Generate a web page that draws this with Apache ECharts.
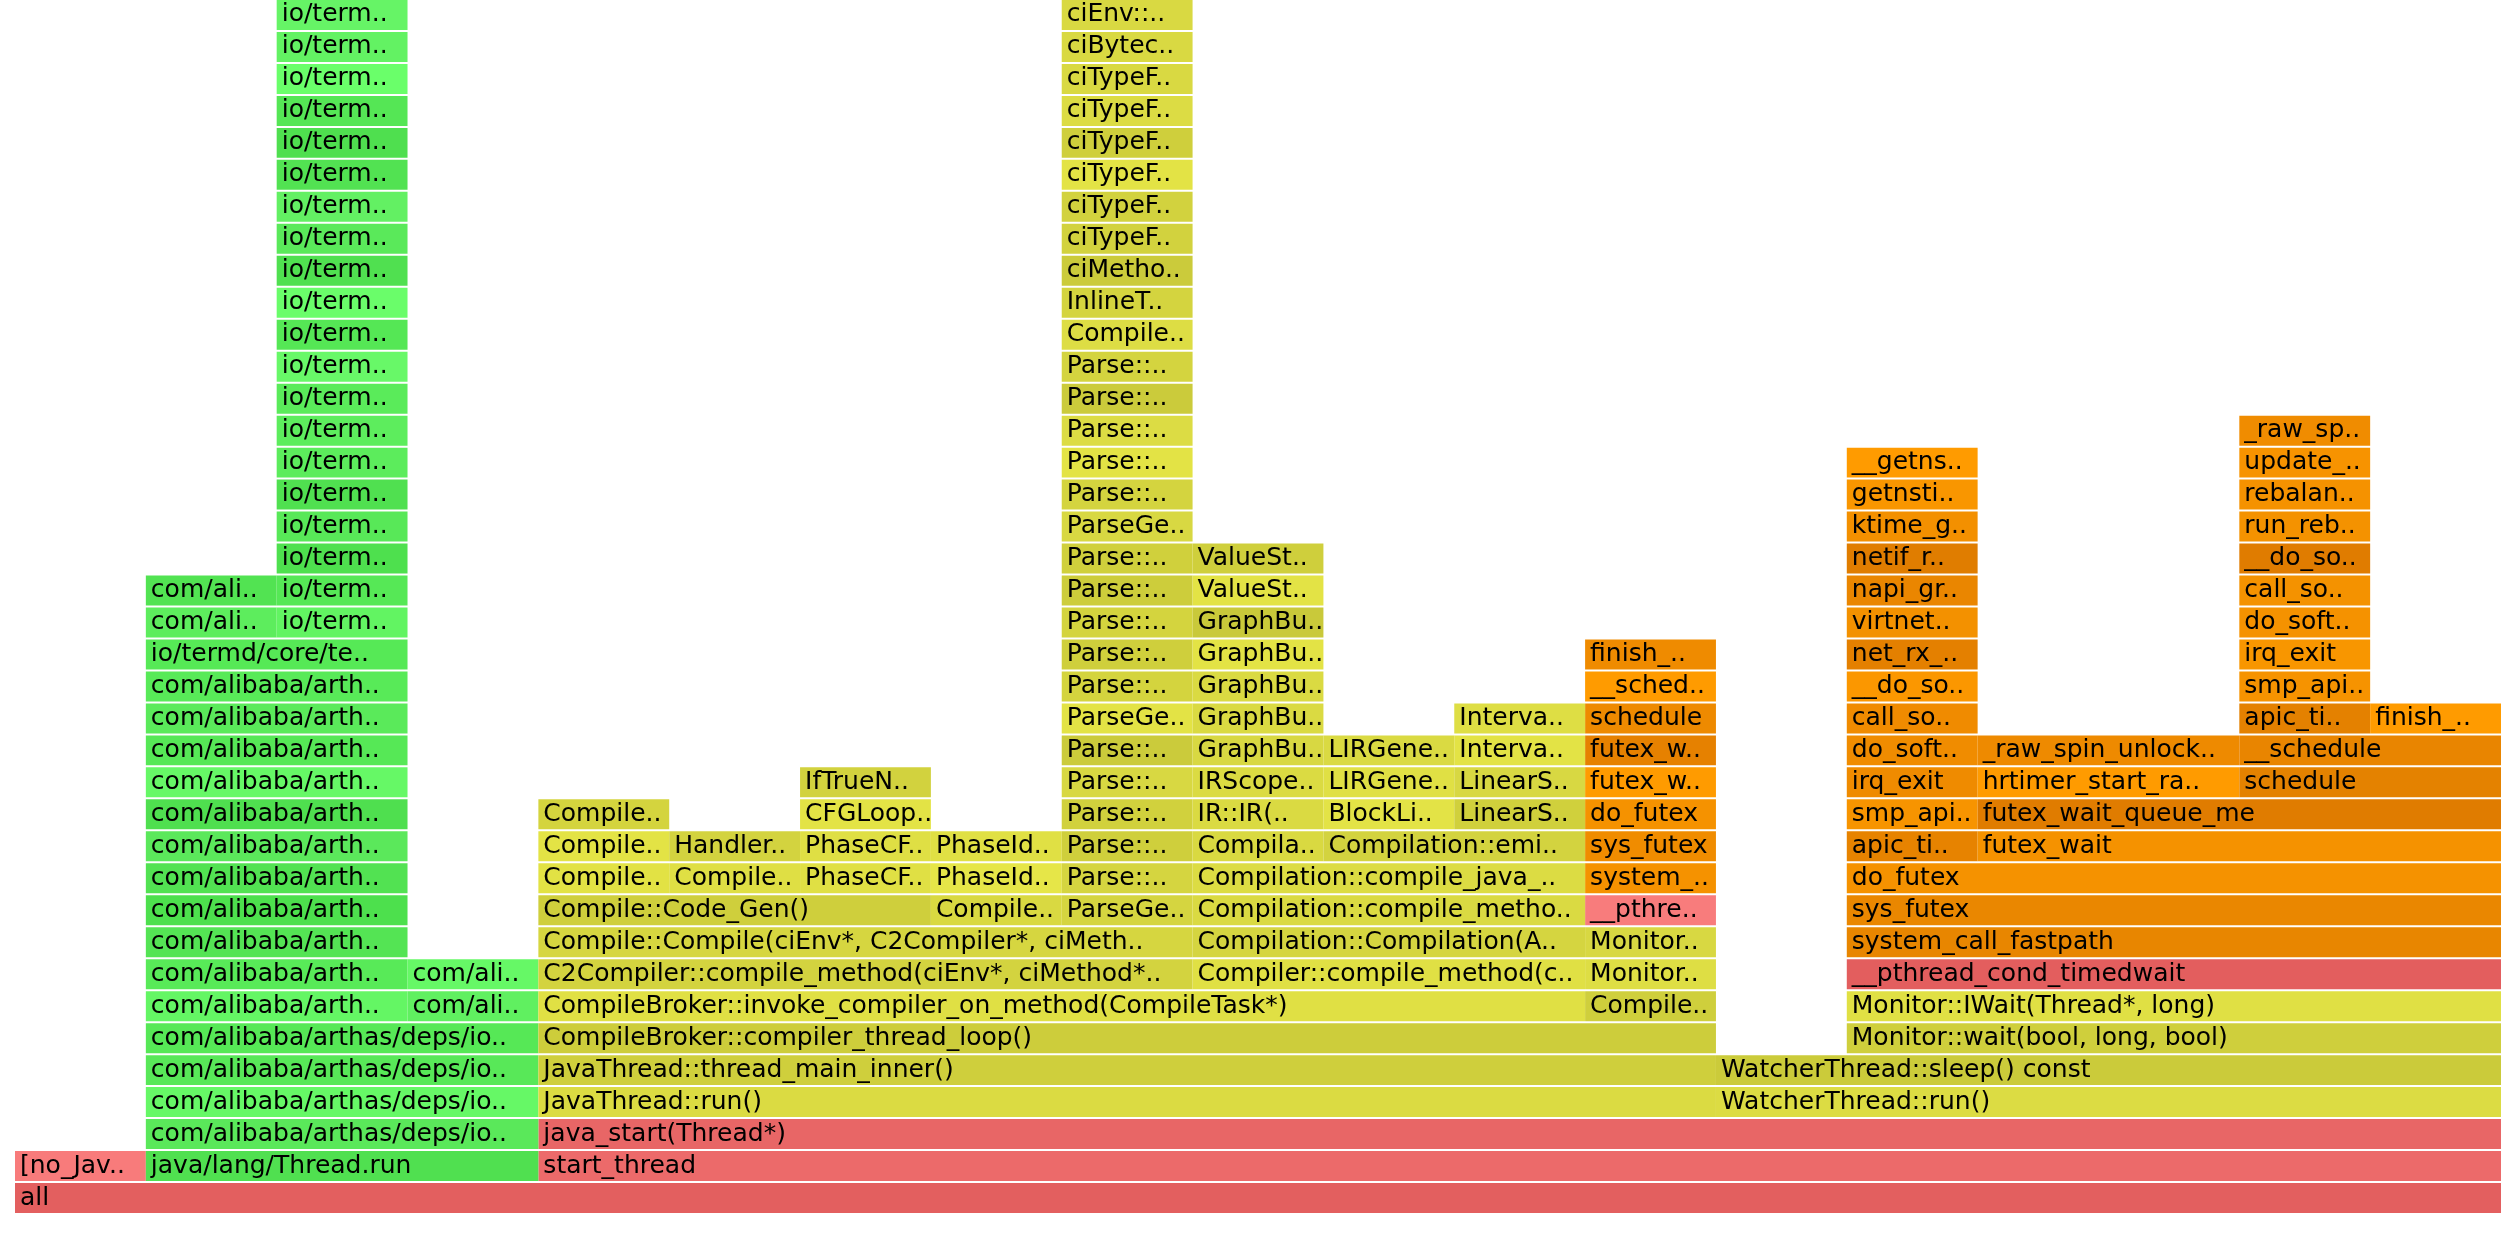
<!DOCTYPE html>
<html>
<head>
<meta charset="utf-8">
<script src="https://cdn.jsdelivr.net/npm/echarts@6/dist/echarts.min.js"></script>
<style>
html,body{margin:0;padding:0;background:#ffffff;overflow:hidden}
#chart{width:2516px;height:1234px}
</style>
</head>
<body>
<div id="chart"></div>
<script>
// ---- DATA: frames as [level, startSample, endSample, label] ----
const TOTAL_SAMPLES = 19;
const MAX_LEVEL = 37;

const rootFrames = [
  [0, 0, 19, 'all'],
  [1, 0, 1, '[no_Jav..'],
  [1, 4, 19, 'start_thread'],
  [2, 4, 19, 'java_start(Thread*)']
];

const arthasFrames = [
  [1, 1, 4, 'java/lang/Thread.run'],
  [2, 1, 4, 'com/alibaba/arthas/deps/io..'],
  [3, 1, 4, 'com/alibaba/arthas/deps/io..'],
  [4, 1, 4, 'com/alibaba/arthas/deps/io..'],
  [5, 1, 4, 'com/alibaba/arthas/deps/io..'],
  [6, 1, 3, 'com/alibaba/arth..'], [6, 3, 4, 'com/ali..'],
  [7, 1, 3, 'com/alibaba/arth..'], [7, 3, 4, 'com/ali..'],
  [8, 1, 3, 'com/alibaba/arth..'],
  [9, 1, 3, 'com/alibaba/arth..'],
  [10, 1, 3, 'com/alibaba/arth..'],
  [11, 1, 3, 'com/alibaba/arth..'],
  [12, 1, 3, 'com/alibaba/arth..'],
  [13, 1, 3, 'com/alibaba/arth..'],
  [14, 1, 3, 'com/alibaba/arth..'],
  [15, 1, 3, 'com/alibaba/arth..'],
  [16, 1, 3, 'com/alibaba/arth..'],
  [17, 1, 3, 'io/termd/core/te..'],
  [18, 1, 2, 'com/ali..'], [18, 2, 3, 'io/term..'],
  [19, 1, 2, 'com/ali..'], [19, 2, 3, 'io/term..'],
  [20, 2, 3, 'io/term..'],
  [21, 2, 3, 'io/term..'],
  [22, 2, 3, 'io/term..'],
  [23, 2, 3, 'io/term..'],
  [24, 2, 3, 'io/term..'],
  [25, 2, 3, 'io/term..'],
  [26, 2, 3, 'io/term..'],
  [27, 2, 3, 'io/term..'],
  [28, 2, 3, 'io/term..'],
  [29, 2, 3, 'io/term..'],
  [30, 2, 3, 'io/term..'],
  [31, 2, 3, 'io/term..'],
  [32, 2, 3, 'io/term..'],
  [33, 2, 3, 'io/term..'],
  [34, 2, 3, 'io/term..'],
  [35, 2, 3, 'io/term..'],
  [36, 2, 3, 'io/term..'],
  [37, 2, 3, 'io/term..']
];

const compileBrokerFrames = [
  [3, 4, 13, 'JavaThread::run()'],
  [4, 4, 13, 'JavaThread::thread_main_inner()'],
  [5, 4, 13, 'CompileBroker::compiler_thread_loop()'],
  [6, 4, 12, 'CompileBroker::invoke_compiler_on_method(CompileTask*)'],
  [6, 12, 13, 'Compile..'],
  [7, 12, 13, 'Monitor..'],
  [8, 12, 13, 'Monitor..'],
  [9, 12, 13, '__pthre..'],
  [10, 12, 13, 'system_..'],
  [11, 12, 13, 'sys_futex'],
  [12, 12, 13, 'do_futex'],
  [13, 12, 13, 'futex_w..'],
  [14, 12, 13, 'futex_w..'],
  [15, 12, 13, 'schedule'],
  [16, 12, 13, '__sched..'],
  [17, 12, 13, 'finish_..']
];

const c2Frames = [
  [7, 4, 9, 'C2Compiler::compile_method(ciEnv*, ciMethod*..'],
  [8, 4, 9, 'Compile::Compile(ciEnv*, C2Compiler*, ciMeth..'],
  [9, 4, 7, 'Compile::Code_Gen()'], [9, 7, 8, 'Compile..'], [9, 8, 9, 'ParseGe..'],
  [10, 4, 5, 'Compile..'], [10, 5, 6, 'Compile..'], [10, 6, 7, 'PhaseCF..'], [10, 7, 8, 'PhaseId..'], [10, 8, 9, 'Parse::..'],
  [11, 4, 5, 'Compile..'], [11, 5, 6, 'Handler..'], [11, 6, 7, 'PhaseCF..'], [11, 7, 8, 'PhaseId..'], [11, 8, 9, 'Parse::..'],
  [12, 4, 5, 'Compile..'], [12, 6, 7, 'CFGLoop..'], [12, 8, 9, 'Parse::..'],
  [13, 6, 7, 'IfTrueN..'], [13, 8, 9, 'Parse::..'],
  [14, 8, 9, 'Parse::..'],
  [15, 8, 9, 'ParseGe..'],
  [16, 8, 9, 'Parse::..'],
  [17, 8, 9, 'Parse::..'],
  [18, 8, 9, 'Parse::..'],
  [19, 8, 9, 'Parse::..'],
  [20, 8, 9, 'Parse::..'],
  [21, 8, 9, 'ParseGe..'],
  [22, 8, 9, 'Parse::..'],
  [23, 8, 9, 'Parse::..'],
  [24, 8, 9, 'Parse::..'],
  [25, 8, 9, 'Parse::..'],
  [26, 8, 9, 'Parse::..'],
  [27, 8, 9, 'Compile..'],
  [28, 8, 9, 'InlineT..'],
  [29, 8, 9, 'ciMetho..'],
  [30, 8, 9, 'ciTypeF..'],
  [31, 8, 9, 'ciTypeF..'],
  [32, 8, 9, 'ciTypeF..'],
  [33, 8, 9, 'ciTypeF..'],
  [34, 8, 9, 'ciTypeF..'],
  [35, 8, 9, 'ciTypeF..'],
  [36, 8, 9, 'ciBytec..'],
  [37, 8, 9, 'ciEnv::..']
];

const c1Frames = [
  [7, 9, 12, 'Compiler::compile_method(c..'],
  [8, 9, 12, 'Compilation::Compilation(A..'],
  [9, 9, 12, 'Compilation::compile_metho..'],
  [10, 9, 12, 'Compilation::compile_java_..'],
  [11, 9, 10, 'Compila..'], [11, 10, 12, 'Compilation::emi..'],
  [12, 9, 10, 'IR::IR(..'], [12, 10, 11, 'BlockLi..'], [12, 11, 12, 'LinearS..'],
  [13, 9, 10, 'IRScope..'], [13, 10, 11, 'LIRGene..'], [13, 11, 12, 'LinearS..'],
  [14, 9, 10, 'GraphBu..'], [14, 10, 11, 'LIRGene..'], [14, 11, 12, 'Interva..'],
  [15, 9, 10, 'GraphBu..'], [15, 11, 12, 'Interva..'],
  [16, 9, 10, 'GraphBu..'],
  [17, 9, 10, 'GraphBu..'],
  [18, 9, 10, 'GraphBu..'],
  [19, 9, 10, 'ValueSt..'],
  [20, 9, 10, 'ValueSt..']
];

const watcherFrames = [
  [3, 13, 19, 'WatcherThread::run()'],
  [4, 13, 19, 'WatcherThread::sleep() const'],
  [5, 14, 19, 'Monitor::wait(bool, long, bool)'],
  [6, 14, 19, 'Monitor::IWait(Thread*, long)'],
  [7, 14, 19, '__pthread_cond_timedwait'],
  [8, 14, 19, 'system_call_fastpath'],
  [9, 14, 19, 'sys_futex'],
  [10, 14, 19, 'do_futex'],
  [11, 14, 15, 'apic_ti..'], [11, 15, 19, 'futex_wait'],
  [12, 14, 15, 'smp_api..'], [12, 15, 19, 'futex_wait_queue_me'],
  [13, 14, 15, 'irq_exit'], [13, 15, 17, 'hrtimer_start_ra..'], [13, 17, 19, 'schedule'],
  [14, 14, 15, 'do_soft..'], [14, 15, 17, '_raw_spin_unlock..'], [14, 17, 19, '__schedule'],
  [15, 14, 15, 'call_so..'], [15, 17, 18, 'apic_ti..'], [15, 18, 19, 'finish_..'],
  [16, 14, 15, '__do_so..'], [16, 17, 18, 'smp_api..'],
  [17, 14, 15, 'net_rx_..'], [17, 17, 18, 'irq_exit'],
  [18, 14, 15, 'virtnet..'], [18, 17, 18, 'do_soft..'],
  [19, 14, 15, 'napi_gr..'], [19, 17, 18, 'call_so..'],
  [20, 14, 15, 'netif_r..'], [20, 17, 18, '__do_so..'],
  [21, 14, 15, 'ktime_g..'], [21, 17, 18, 'run_reb..'],
  [22, 14, 15, 'getnsti..'], [22, 17, 18, 'rebalan..'],
  [23, 14, 15, '__getns..'], [23, 17, 18, 'update_..'],
  [24, 17, 18, '_raw_sp..']
];

// ---- STYLES: fill colour of each frame, in the same order as the frame lists ----
const rootColors = ['#e35f5f', '#f87b7b', '#ec6a6a', '#e86666'];
const arthasColors = [
  '#50e050', '#5ae85a', '#66f866', '#58e858', '#56e856',
  '#64f664', '#60f060',
  '#58ea58', '#66f866',
  '#54e454', '#4de04d', '#52e252', '#5be85b', '#4fdf4f', '#66f866', '#56e856', '#5aea5a', '#58ea58',
  '#56e956',
  '#5ded5d', '#62f462',
  '#52e352', '#56e856',
  '#4ee04e', '#58e858', '#50e050', '#5cec5c', '#5ded5d', '#5aeb5a', '#68f868', '#55e755', '#6afd6a',
  '#50e050', '#5ae95a', '#63f063', '#52e252', '#4fdf4f', '#55e655', '#6aff6a', '#63f263', '#66f466'
];
const compileBrokerColors = [
  '#dbdb42', '#cfcf3c', '#cdcd3b', '#e0e044', '#cfcf3c',
  '#dede44', '#d8d842', '#f87c7c', '#f59200', '#f08c00', '#f59200', '#ff9b00', '#e68100',
  '#ee8a00', '#ff9b00', '#ef8b00'
];
const c2Colors = [
  '#d3d33f',
  '#d6d640',
  '#cfcf3c', '#d9d941', '#d5d540',
  '#e2e244', '#dfdf44', '#e0e044', '#e6e648', '#d5d540',
  '#e3e345', '#d3d33f', '#dfdf44', '#e0e044', '#cfcf3c',
  '#d4d43e', '#e3e345', '#d1d13d',
  '#d2d23e', '#d8d842',
  '#cbcb3b', '#e3e345', '#d4d43e', '#cfcf3c', '#d4d43e', '#cdcd3b', '#d0d03c', '#d8d842',
  '#d4d43f', '#e3e345', '#dcdc44', '#cbcb3b', '#d4d43f',
  '#dddd44', '#d4d43f', '#cbcb3b',
  '#d2d23e', '#d2d23e', '#e3e345', '#cfcf3c', '#dcdc44', '#d9d942', '#d9d942', '#d9d942'
];
const c1Colors = [
  '#e0e044', '#d5d540', '#dada42', '#dcdc43',
  '#d9d941', '#d3d33f',
  '#dada42', '#e3e346', '#d0d03c',
  '#dbdb42', '#e0e044', '#d8d842',
  '#d8d842', '#dada42', '#e3e345',
  '#dada42', '#dede44',
  '#dada42', '#e3e345', '#c9c93a', '#e3e345', '#cfcf3c'
];
const watcherColors = [
  '#dcdc43', '#cbcb3a', '#cfcf3c', '#e0e044', '#e35e5e', '#e88600', '#ea8700', '#f59200',
  '#e78300', '#f59200',
  '#f79400', '#e07c00',
  '#ef8b00', '#ff9b00', '#e48200',
  '#f08c00', '#ee8a00', '#e98500',
  '#f08b00', '#e48100', '#ff9b00',
  '#fb9700', '#f69300',
  '#e48000', '#f89600',
  '#f39100', '#f59200',
  '#ea8600', '#f49200',
  '#e07d00', '#e07c00',
  '#f39000', '#f49200',
  '#f99600', '#f59200',
  '#ff9b00', '#f79300',
  '#f08c00'
];

// ---- build series data ----
const groups = [
  [rootFrames, rootColors],
  [arthasFrames, arthasColors],
  [compileBrokerFrames, compileBrokerColors],
  [c2Frames, c2Colors],
  [c1Frames, c1Colors],
  [watcherFrames, watcherColors]
];
const labels = [];
const seriesData = [];
groups.forEach(([frames, colors]) => {
  frames.forEach((f, i) => {
    labels.push(f[3]);
    seriesData.push({
      name: f[3],
      value: [f[0], f[1], f[2]],
      itemStyle: { color: colors[i] || '#dddd44' }
    });
  });
});

function renderItem(params, api) {
  const level = api.value(0);
  const start = api.coord([api.value(1), level]);
  const end = api.coord([api.value(2), level]);
  const height = api.size([0, 1])[1];
  const width = end[0] - start[0];
  return {
    type: 'rect',
    shape: { x: start[0], y: start[1] - height / 2, width: width, height: height - 2 },
    style: { fill: api.visual('color') },
    textConfig: { position: 'insideLeft', distance: 5 },
    textContent: {
      style: {
        text: labels[params.dataIndex],
        fontFamily: 'DejaVu Sans',
        fontSize: 25,
        fill: '#000',
        width: width,
        overflow: 'truncate',
        ellipsis: '..',
        truncateMinChar: 1
      }
    }
  };
}

const chart = echarts.init(document.getElementById('chart'), null, { renderer: 'canvas' });
chart.setOption({
  animation: false,
  backgroundColor: '#ffffff',
  grid: { left: 15, width: 2486, top: -1, height: 1216 },
  xAxis: { type: 'value', min: 0, max: TOTAL_SAMPLES, show: false },
  yAxis: { type: 'value', min: -0.5, max: MAX_LEVEL + 0.5, show: false },
  series: [{
    type: 'custom',
    renderItem: renderItem,
    encode: { x: [1, 2], y: 0 },
    data: seriesData
  }]
});
</script>
</body>
</html>
